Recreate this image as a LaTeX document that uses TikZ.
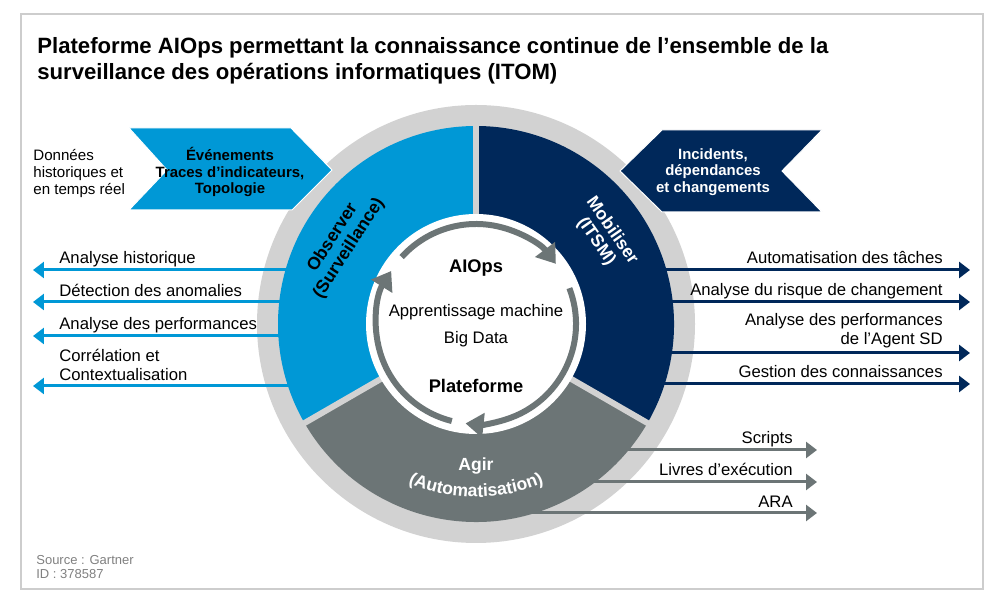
\documentclass[tikz,border=0pt]{standalone}
\usepackage{fontspec}
\setmainfont{Liberation Sans}
\usetikzlibrary{arrows.meta, positioning, decorations.text}

\definecolor{obsblue}{RGB}{0,152,214}
\definecolor{mobnavy}{RGB}{0,40,90}
\definecolor{agirgray}{RGB}{108,117,118}
\definecolor{ringgray}{RGB}{210,210,210}
\definecolor{framegray}{RGB}{205,205,205}
\definecolor{sourcegray}{RGB}{128,128,128}

\tikzset{
    diagram/.style={x=0.02cm, y=0.02cm, inner sep=0pt},
    title text/.style={font=\bfseries\fontsize{12.6}{15.3}\selectfont, align=left},
    side text/.style={font=\fontsize{8.6}{9.9}\selectfont, align=left},
    chevron text/.style={font=\bfseries\fontsize{8.5}{9.4}\selectfont, align=center},
    arrow label/.style={font=\fontsize{9.5}{11.3}\selectfont},
    core title/.style={font=\bfseries\fontsize{10.4}{12}\selectfont},
    core text/.style={font=\fontsize{9.5}{15.3}\selectfont, align=center},
    segment label/.style={font=\bfseries\fontsize{10}{11}\selectfont, align=center},
    source text/.style={font=\fontsize{7.4}{8}\selectfont, align=left, text=sourcegray},
    obs arrow/.style={-{Triangle[width=0.32cm, length=0.22cm]}, line width=0.06cm, obsblue},
    mob arrow/.style={-{Triangle[width=0.32cm, length=0.22cm]}, line width=0.06cm, mobnavy},
    agir arrow/.style={-{Triangle[width=0.32cm, length=0.22cm]}, line width=0.06cm, agirgray},
    core arrow/.style={-{Triangle[width=0.48cm, length=0.36cm]}, line width=0.12cm, agirgray},
    gap line/.style={line width=0.12cm, ringgray},
}

\begin{document}
\begin{tikzpicture}[diagram]

    \useasboundingbox (0,0) rectangle (1000,604);
    \draw[framegray, line width=0.04cm] (21,15) rectangle (983,590);

    % Title
    \node[title text, anchor=base west] (title) at (37,524)
        {Plateforme AIOps permettant la connaissance continue de l’ensemble de la\\
         surveillance des opérations informatiques (ITOM)};

    % Ring
    \coordinate (C) at (476,280);
    \fill[ringgray] (C) circle[radius=219];

    % Arrow ends
    \coordinate (obs1s) at (300,334);  \coordinate (obs1e) at (33,334);
    \coordinate (obs2s) at (300,302);  \coordinate (obs2e) at (33,302);
    \coordinate (obs3s) at (300,268);  \coordinate (obs3e) at (33,268);
    \coordinate (obs4s) at (300,218);  \coordinate (obs4e) at (33,218);
    \coordinate (mob1s) at (650,334);  \coordinate (mob1e) at (970,334);
    \coordinate (mob2s) at (650,302);  \coordinate (mob2e) at (970,302);
    \coordinate (mob3s) at (650,251);  \coordinate (mob3e) at (970,251);
    \coordinate (mob4s) at (650,220);  \coordinate (mob4e) at (970,220);
    \coordinate (agir1s) at (600,154); \coordinate (agir1e) at (817,154);
    \coordinate (agir2s) at (570,122); \coordinate (agir2e) at (817,122);
    \coordinate (agir3s) at (520,91);  \coordinate (agir3e) at (817,91);

    % Arrows
    \draw[obs arrow] (obs1s) -- (obs1e);
    \draw[obs arrow] (obs2s) -- (obs2e);
    \draw[obs arrow] (obs3s) -- (obs3e);
    \draw[obs arrow] (obs4s) -- (obs4e);
    \draw[mob arrow] (mob1s) -- (mob1e);
    \draw[mob arrow] (mob2s) -- (mob2e);
    \draw[mob arrow] (mob3s) -- (mob3e);
    \draw[mob arrow] (mob4s) -- (mob4e);
    \draw[agir arrow] (agir1s) -- (agir1e);
    \draw[agir arrow] (agir2s) -- (agir2e);
    \draw[agir arrow] (agir3s) -- (agir3e);

    % Segments
    \fill[obsblue] (C) -- ++(90:198) arc[start angle=90, end angle=210, radius=198] -- cycle;
    \fill[mobnavy] (C) -- ++(-30:198) arc[start angle=-30, end angle=90, radius=198] -- cycle;
    \fill[agirgray] (C) -- ++(210:198) arc[start angle=210, end angle=330, radius=198] -- cycle;
    \draw[gap line] (C) -- ++(90:205);
    \draw[gap line] (C) -- ++(210:205);
    \draw[gap line] (C) -- ++(330:205);
    \fill[white] (C) circle[radius=110];

    % Core cycle
    \draw[core arrow] (C) ++(138:100) arc[start angle=138, end angle=37, radius=100];
    \draw[core arrow] (C) ++(21:100) arc[start angle=21, end angle=-96, radius=100];
    \draw[core arrow] (C) ++(-104:100) arc[start angle=-104, end angle=-212, radius=100];

    % Chevrons
    \fill[obsblue, draw=white, line width=0.02cm] (129,476) -- (291,476) -- (332,434) -- (292,394) -- (129,394) -- (167,434) -- cycle;
    \fill[mobnavy, draw=white, line width=0.02cm] (620,433) -- (662,474) -- (822,474) -- (782,433) -- (822,392) -- (662,392) -- cycle;

    % Nodes
    \node[side text, anchor=base west] (data) at (33,409) {Données\\historiques et\\en temps réel};
    \node[chevron text] (events) at (230,432) {Événements\\Traces d’indicateurs,\\Topologie};
    \node[chevron text, text=white] (incidents) at (713,432) {Incidents,\\dépendances\\et changements};

    \node[core title] (aiops) at (476,336) {AIOps};
    \node[core text] (ml) at (476,278) {Apprentissage machine\\Big Data};
    \node[core title] (platform) at (476,218) {Plateforme};

    \node[segment label, rotate=57] (observe) at (341,361) {Observer\\(Surveillance)};
    \node[segment label, rotate=-55, text=white] (mobilise) at (604,368) {Mobiliser\\(ITSM)};
    \node[segment label, text=white] (act) at (476,138) {Agir};
    \path[decorate, decoration={text along path, text align=center, text color=white,
        text={|\bfseries\fontsize{10}{12}\selectfont|(Automatisation)}}]
        (C) ++(230:173) arc[start angle=230, end angle=310, radius=173];

    \node[arrow label, anchor=base west] (hist) at (59,340) {Analyse historique};
    \node[arrow label, anchor=base west] (anom) at (59,307) {Détection des anomalies};
    \node[arrow label, anchor=base west] (perf) at (59,274) {Analyse des performances};
    \node[arrow label, anchor=base west, align=left] (corr) at (59,223) {Corrélation et\\Contextualisation};

    \node[arrow label, anchor=base east] (tasks) at (943,340) {Automatisation des tâches};
    \node[arrow label, anchor=base east] (risk) at (943,308) {Analyse du risque de changement};
    \node[arrow label, anchor=base east, align=right] (agent) at (943,259) {Analyse des performances\\de l’Agent SD};
    \node[arrow label, anchor=base east] (know) at (943,226) {Gestion des connaissances};

    \node[arrow label, anchor=base east] (scripts) at (793,160) {Scripts};
    \node[arrow label, anchor=base east] (books) at (793,128) {Livres d’exécution};
    \node[arrow label, anchor=base east] (ara) at (793,96) {ARA};

    \node[source text, anchor=base west] (source) at (36,25) {Source : Gartner\\ID : 378587};

\end{tikzpicture}
\end{document}
